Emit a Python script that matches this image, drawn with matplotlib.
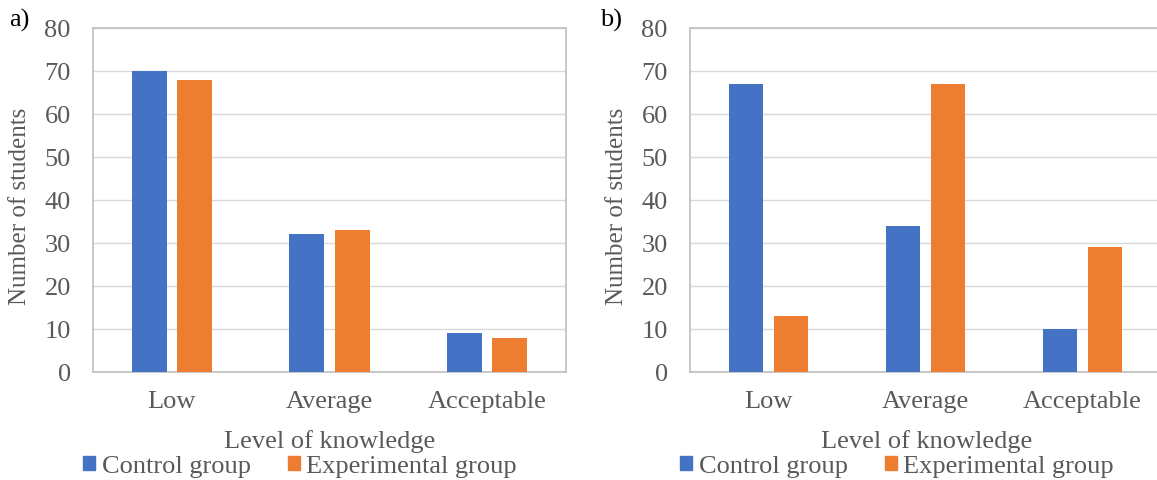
import matplotlib
matplotlib.use("Agg")
import matplotlib.pyplot as plt
import numpy as np
from matplotlib.patches import Patch

levels = ["Low", "Average", "Acceptable"]
control_a = [70, 32, 9]
experimental_a = [68, 33, 8]
control_b = [67, 34, 10]
experimental_b = [13, 67, 29]
series_names = ["Control group", "Experimental group"]

BLUE, ORANGE = "#4472C4", "#ED7D31"
TXT, GRID, FRAME = "#595959", "#D9D9D9", "#BFBFBF"
FS = 19

plt.rcParams["font.family"] = ["Liberation Serif", "DejaVu Serif"]

fig = plt.figure(figsize=(11.57, 4.81), dpi=100)
W, H = 1157, 481


def panel(left_px, width_px, ctrl, expe, tag, tag_x, ylab_x, leg_cx):
    ax = fig.add_axes([left_px / W, (H - 373) / H, width_px / W, 344 / H])
    x = np.arange(len(levels))
    ax.bar(x - 0.143, ctrl, width=0.222, color=BLUE, zorder=3)
    ax.bar(x + 0.143, expe, width=0.222, color=ORANGE, zorder=3)
    ax.set_xlim(-0.5, 2.5)
    ax.set_ylim(0, 80)
    ax.set_yticks(range(0, 81, 10))
    ax.set_xticks(x, levels)
    ax.grid(axis="y", color=GRID, lw=1, zorder=0)
    for s in ax.spines.values():
        s.set_color(FRAME)
        s.set_linewidth(1.2)
    ax.tick_params(length=0, labelsize=FS, colors=TXT)
    ax.tick_params(axis="y", pad=16)
    ax.tick_params(axis="x", pad=13)
    fig.text(ylab_x / W, (H - 206) / H, "Number of students", rotation=90,
             ha="center", va="center", fontsize=18, color=TXT)
    cx = (left_px + 473 / 2) / W
    fig.text(cx, (H - 442) / H, "Level of knowledge", ha="center", va="center",
             fontsize=FS, color=TXT)
    fig.text(tag_x / W, (H - 20) / H, tag, ha="left", va="center", fontsize=FS,
             color="black")
    handles = [Patch(color=BLUE), Patch(color=ORANGE)]
    fig.legend(handles, series_names, loc="center", ncol=2, frameon=False,
               bbox_to_anchor=(leg_cx / W, (H - 467) / H), fontsize=FS,
               labelcolor=TXT, handlelength=0.45, handleheight=0.45,
               handletextpad=0.25, columnspacing=1.4, borderpad=0,
               borderaxespad=0)
    return ax


panel(93, 473, control_a, experimental_a, "a)", 9, 20, 300)
panel(690, 471, control_b, experimental_b, "b)", 600, 617, 897)

fig.savefig("out.png", dpi=100)
